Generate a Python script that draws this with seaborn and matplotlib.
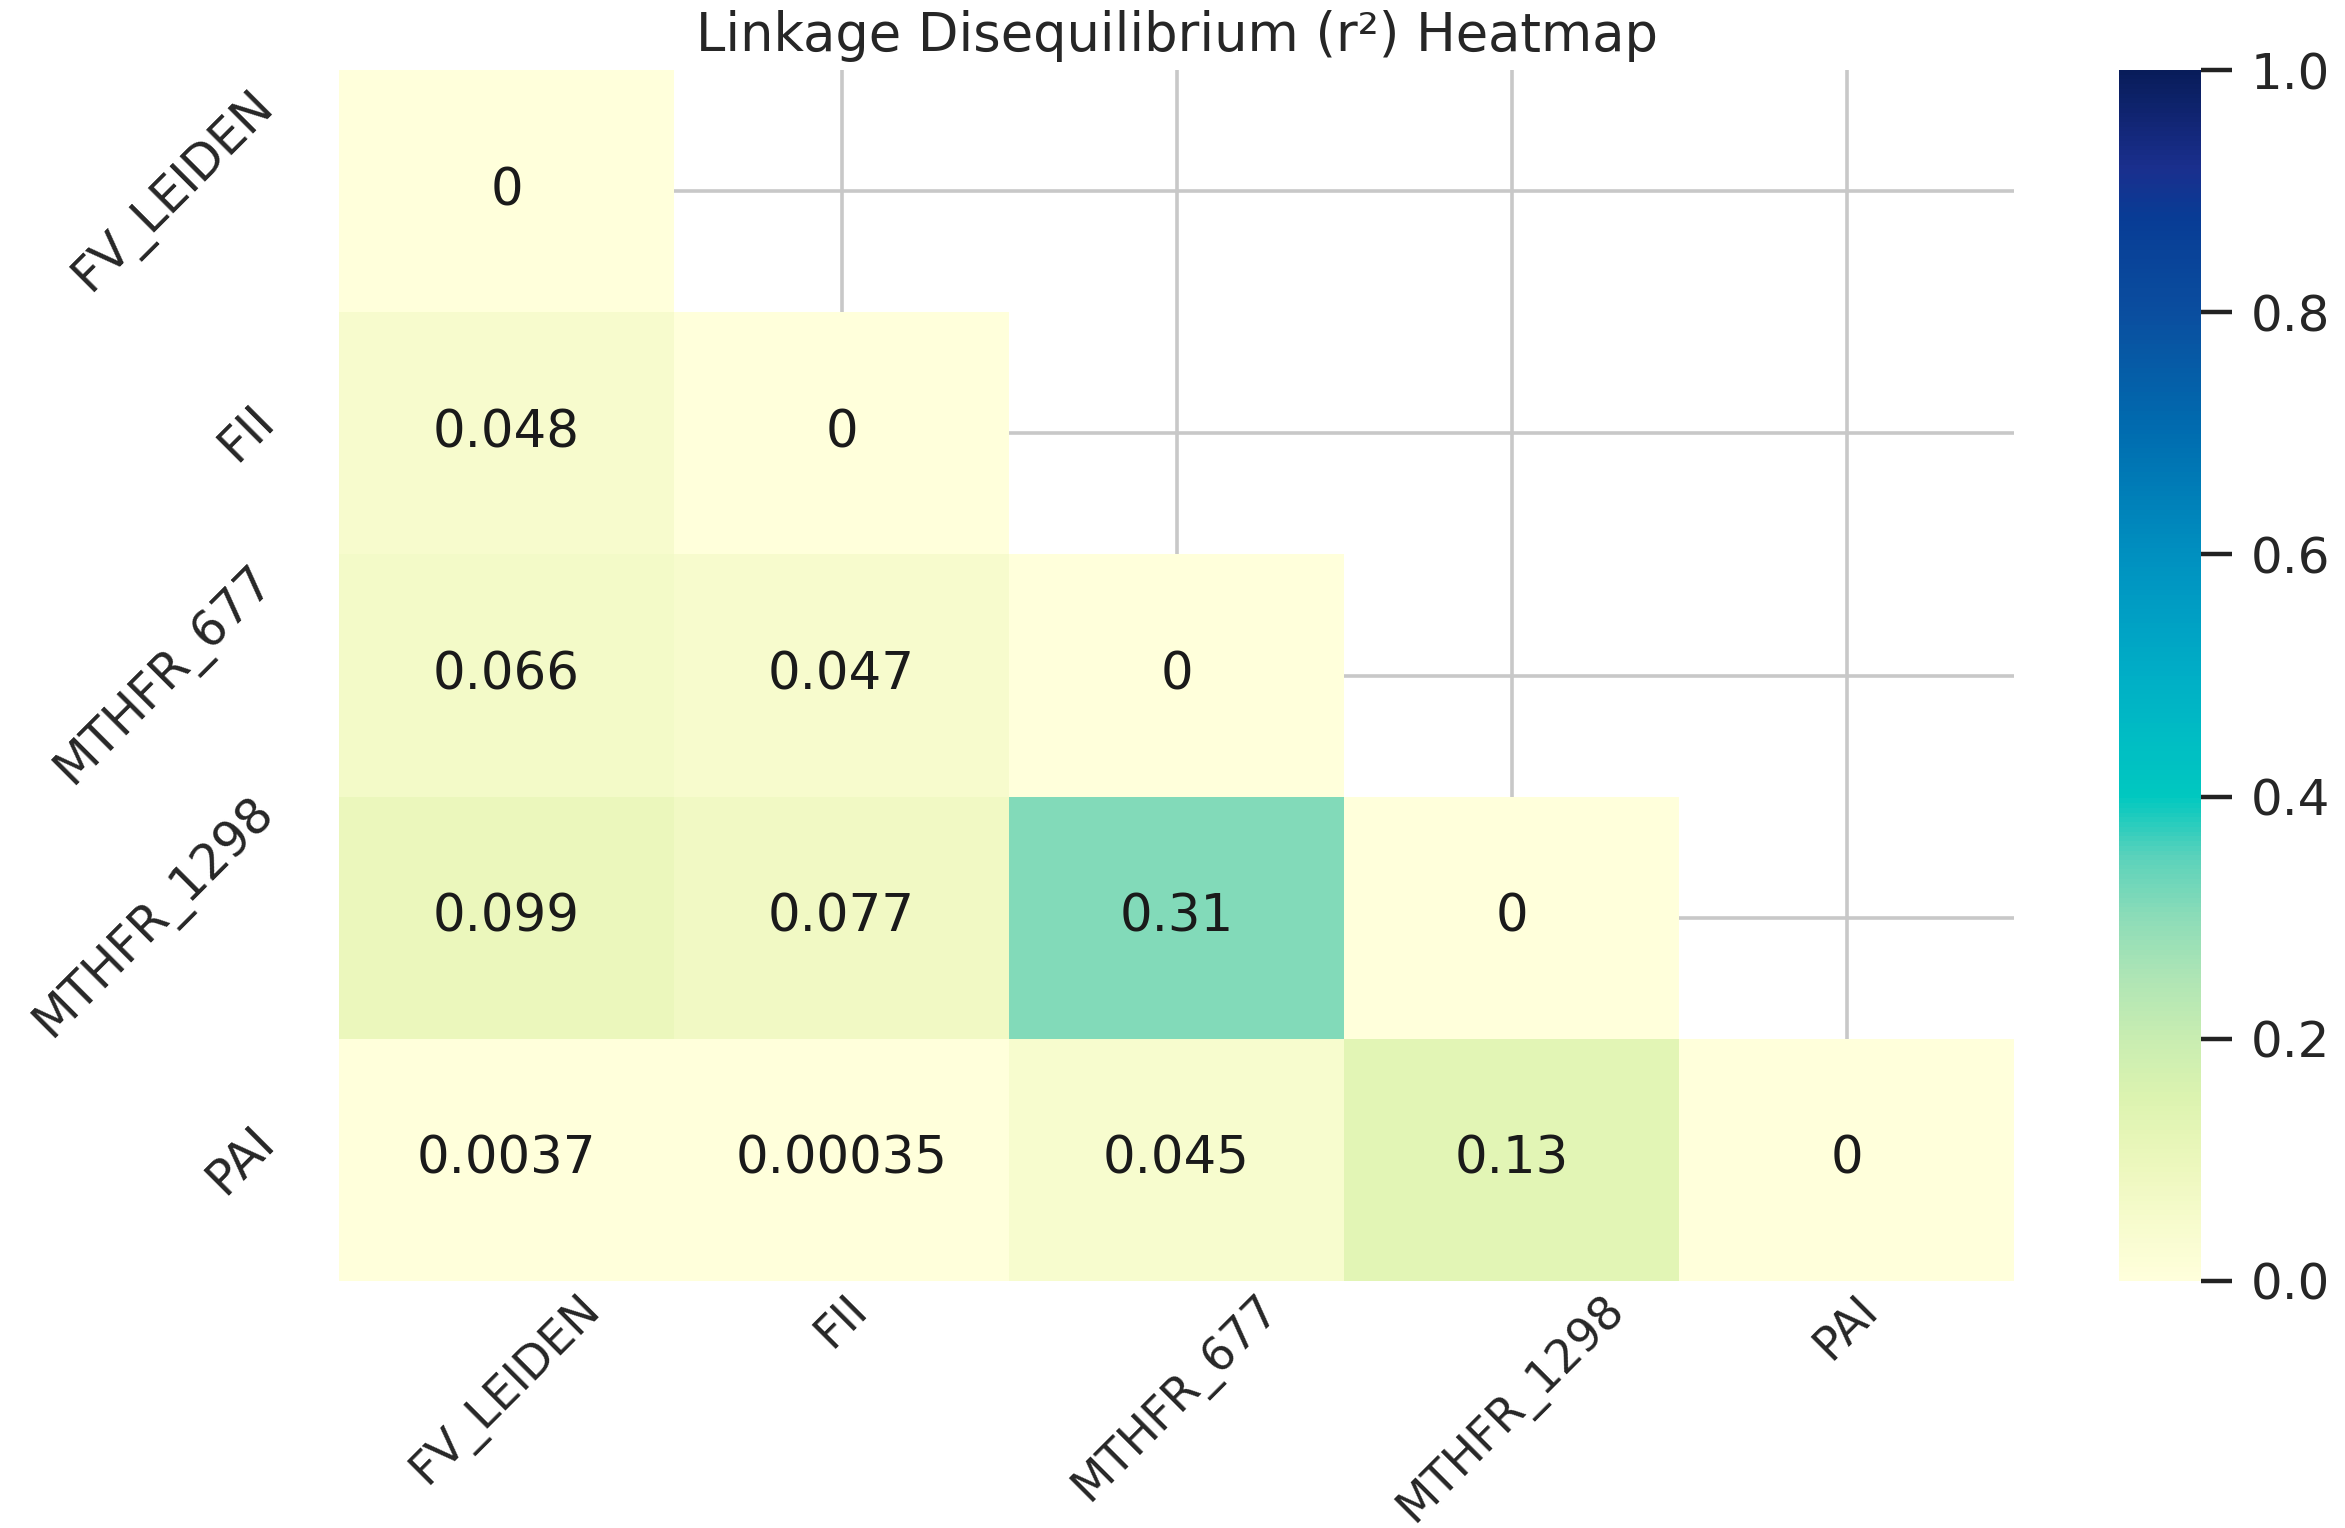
import numpy as np
import pandas as pd
import matplotlib
matplotlib.use("Agg")
import matplotlib.pyplot as plt
import seaborn as sns
from matplotlib.colors import LinearSegmentedColormap

# ---- data ----
markers = ["FV_LEIDEN", "FII", "MTHFR_677", "MTHFR_1298", "PAI"]
row_fv = [0, np.nan, np.nan, np.nan, np.nan]
row_fii = [0.048, 0, np.nan, np.nan, np.nan]
row_677 = [0.066, 0.047, 0, np.nan, np.nan]
row_1298 = [0.099, 0.077, 0.31, 0, np.nan]
row_pai = [0.0037, 0.00035, 0.045, 0.13, 0]
cbar_ticks = [0.0, 0.2, 0.4, 0.6, 0.8, 1.0]
title = "Linkage Disequilibrium (r²) Heatmap"

ld = pd.DataFrame([row_fv, row_fii, row_677, row_1298, row_pai],
                  index=markers, columns=markers).fillna(0)
mask = np.triu(np.ones_like(ld.values, dtype=bool), k=1)

# colormap sampled from the reference colourbar
cmap_pos = [0.0, 0.05, 0.1, 0.15, 0.2, 0.25, 0.3, 0.35, 0.4, 0.45, 0.5,
            0.55, 0.6, 0.7, 0.8, 0.88, 0.92, 1.0]
cmap_col = ["#ffffdb", "#f6fbcc", "#ebf7bb", "#dcf3b0", "#c8edb1", "#aee5b5",
            "#8cdcb8", "#5ad2bb", "#00c8c0", "#00bcc4", "#00aec6", "#009fc4",
            "#0090c0", "#006db0", "#0a4e9f", "#083c95", "#1a2f8e", "#081c5a"]
cmap = LinearSegmentedColormap.from_list("ld", list(zip(cmap_pos, cmap_col)))

sns.set_theme(style="whitegrid")
plt.rcParams["font.family"] = ["DejaVu Sans"]
plt.rcParams["grid.color"] = "#c8c8c8"
plt.rcParams["grid.linewidth"] = 1.3

W, H, DPI = 2345, 1528, 200
fig = plt.figure(figsize=(W / DPI, H / DPI), dpi=DPI)
ax = fig.add_axes([339 / W, 1 - 1281 / H, (2014 - 339) / W, (1281 - 70) / H])
cax = fig.add_axes([2119 / W, 1 - 1281 / H, (2201 - 2119) / W, (1281 - 70) / H])

sns.heatmap(ld, mask=mask, cmap=cmap, vmin=0, vmax=1, annot=True,
            annot_kws={"size": 18.5, "color": "#1a1a1a"},
            ax=ax, cbar_ax=cax, cbar_kws={"ticks": cbar_ticks})

ax.grid(True, color="#c8c8c8", linewidth=1.3)
ax.set_axisbelow(True)
ax.set_xlabel("")
ax.set_ylabel("")
ax.tick_params(axis="x", length=0, pad=2, labelsize=16.5, rotation=45)
ax.tick_params(axis="y", length=0, pad=20, labelsize=17.5, rotation=45)
for lbl in ax.get_xticklabels():
    lbl.set_ha("center")
for lbl in ax.get_yticklabels():
    lbl.set_ha("right")
    lbl.set_va("center")
ax.set_title(title, fontsize=19, pad=7)

cax.tick_params(length=11, width=1.6, pad=7, labelsize=18, color="#222222")
cax.yaxis.set_major_formatter(matplotlib.ticker.FormatStrFormatter("%.1f"))

fig.savefig("out.png", dpi=DPI)
